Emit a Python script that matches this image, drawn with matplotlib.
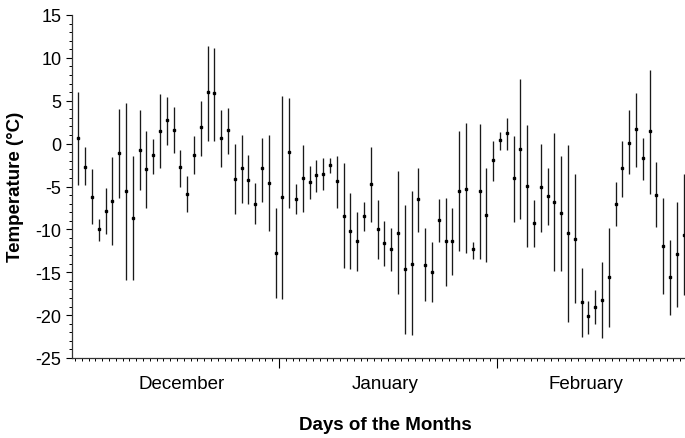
import numpy as np
import matplotlib
matplotlib.use("Agg")
import matplotlib.pyplot as plt

plt.rcParams['font.family'] = ['Liberation Sans', 'DejaVu Sans']
plt.rcParams['axes.unicode_minus'] = False

# daily temperatures, Dec 1 .. Feb 28
days = np.arange(1, 91)
highs = [6.0, -0.4, -3.0, -8.75, -5.2, -1.6, 4.0, 4.7, -1.4, 3.9, 1.5, 0.5, 5.8, 5.4, 4.3, -0.7, -3.8,
         0.9, 5.0, 11.4, 11.2, 3.9, 4.2, 0.0, 1.05, -1.3, -4.6, 0.7, 1.0, -7.5, 5.5, 5.3, -4.7, -0.2,
         -2.6, -1.9, -1.7, -1.7, -1.4, -2.3, -5.7, -8.0, -6.8, -0.4, -6.6, -9.0, -9.8, -3.2, -7.1, -5.5, -2.8, -9.8,
         -11.5, -6.4, -6.3, -7.5, 1.5, 2.4, -11.5, 2.3, -2.9, 0.3, 1.4, 3.0, 0.9, 7.5, 2.2, -6.6, 0.0, -2.9,
         1.2, -1.5, -0.2, -3.6, -14.5, -18.4, -17.1, -13.75, -9.8, -4.5, 0.3, 3.9, 5.9, 0.6, 8.6, -2.2, -6.3, -11.2, -6.8, -3.6]
lows = [-4.8, -4.8, -9.4, -11.4, -10.5, -11.8, -6.3, -15.9, -15.9, -5.4, -7.5, -3.5, -2.9, -0.2, -1.1, -5.0, -8.0,
        -3.6, -1.4, 0.3, 0.3, -2.7, -1.25, -8.2, -6.9, -7.0, -9.4, -6.8, -10.2, -18.0, -18.1, -7.5, -8.2, -8.0,
        -6.5, -5.6, -5.4, -3.4, -7.5, -14.5, -14.6, -14.8, -10.2, -9.1, -13.4, -14.3, -14.8, -17.5, -22.2, -22.3, -10.3, -18.4,
        -18.5, -11.5, -16.6, -15.3, -12.5, -12.8, -13.5, -13.4, -13.8, -4.4, -0.7, -0.8, -9.1, -8.75, -12.1, -12.0, -10.3, -9.5,
        -14.8, -14.8, -20.8, -18.6, -22.5, -22.2, -21.0, -22.7, -21.4, -9.6, -6.2, -3.6, -2.7, -4.3, -5.9, -9.7, -17.5, -20.0, -19.0, -17.7]
means = [0.7, -2.7, -6.2, -10.0, -7.8, -6.7, -1.1, -5.5, -8.7, -0.7, -3.0, -1.3, 1.5, 2.7, 1.6, -2.7, -5.9,
         -1.3, 1.9, 6.0, 5.9, 0.7, 1.6, -4.1, -2.85, -4.2, -7.0, -2.9, -4.6, -12.7, -6.25, -1.0, -6.4, -4.0,
         -4.45, -3.7, -3.5, -2.5, -4.4, -8.4, -10.2, -11.4, -8.4, -4.7, -10.0, -11.6, -12.3, -10.4, -14.6, -14.0, -6.5, -14.1,
         -15.0, -8.9, -11.4, -11.4, -5.5, -5.3, -12.3, -5.5, -8.3, -1.9, 0.4, 1.2, -4.0, -0.6, -4.9, -9.3, -5.1, -6.1,
         -6.8, -8.05, -10.4, -11.1, -18.5, -20.1, -19.0, -18.2, -15.6, -7.0, -2.85, 0.1, 1.7, -1.7, 1.5, -6.0, -11.9, -15.6, -12.9, -10.6]

months = ['December', 'January', 'February']
month_centers = [16.25, 46.1, 75.7]
month_breaks = [30.5, 62.5]

fig = plt.figure(figsize=(6.85, 4.39), dpi=100)
ax = fig.add_axes([72 / 685, 80 / 439, 613 / 685, 343 / 439])

ax.vlines(days, lows, highs, color='#1a1a1a', linewidth=0.95)
ax.plot(days, means, linestyle='none', marker='s', markersize=1.7, color='black')

ax.set_xlim(0.07, 90.22)
ax.set_ylim(-25, 15)

ax.spines['top'].set_visible(False)
ax.spines['right'].set_visible(False)
for s in ('left', 'bottom'):
    ax.spines[s].set_color('#333333')
    ax.spines[s].set_linewidth(0.9)

ax.set_yticks(np.arange(-25, 16, 5))
ax.set_yticks(np.arange(-25, 16, 1), minor=True)
ax.set_xticks(month_breaks)
ax.set_xticklabels([])
ax.set_xticks(np.arange(0.5, 90.5, 1), minor=True)
ax.tick_params(axis='y', which='major', length=4.5, width=0.8, labelsize=13, pad=3)
ax.tick_params(axis='y', which='minor', length=2.3, width=0.7)
ax.tick_params(axis='x', which='major', length=7.5, width=0.8)
ax.tick_params(axis='x', which='minor', length=1.8, width=0.7)

for name, xc in zip(months, month_centers):
    ax.text(xc, -0.075, name, transform=ax.get_xaxis_transform(),
            ha='center', va='center', fontsize=13.5)

ax.text(46.1, -0.193, 'Days of the Months', transform=ax.get_xaxis_transform(),
        ha='center', va='center', fontsize=13.5, fontweight='bold')
fig.text(16 / 685, 1 - 187 / 439, 'Temperature (°C)', rotation=90,
         ha='center', va='center', fontsize=13.5, fontweight='bold')

fig.savefig('out.png', dpi=100)
